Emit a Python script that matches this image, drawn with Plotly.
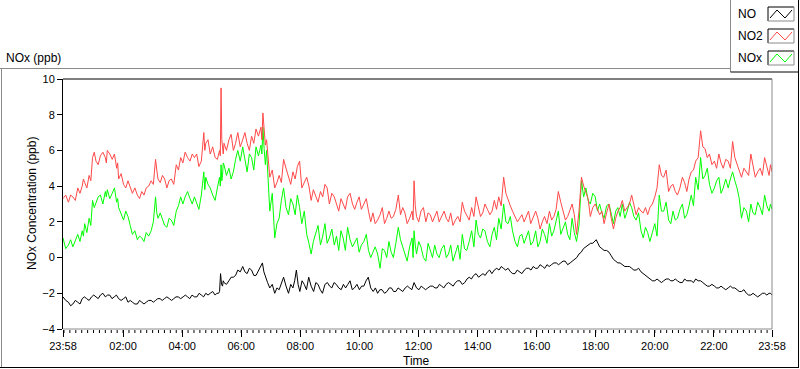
import pandas as pd
import plotly.graph_objects as go

START = pd.Timestamp("2013-05-01 23:58")

# ---- data (minutes after 23:58, values in ppb) ----
grid_minutes = [
    0, 11, 20, 30, 39, 44, 53, 60, 67, 76,
    86, 90, 100, 109, 113, 123, 132, 141, 151, 160,
    169, 179, 188, 193, 202, 211, 220, 230, 239, 248,
    258, 267, 276, 286, 290, 299, 309, 318, 321, 324,
    327, 337, 346, 355, 365, 374, 383, 392, 402, 406,
    411, 416, 420, 430, 439, 448, 458, 467, 476, 485,
    495, 504, 513, 523, 532, 541, 551, 560, 569, 578,
    588, 597, 606, 616, 625, 634, 644, 653, 662, 671,
    681, 690, 699, 709, 713, 718, 727, 737, 746, 755,
    764, 774, 783, 792, 802, 811, 820, 830, 839, 848,
    857, 867, 876, 885, 895, 904, 913, 923, 932, 941,
    950, 960, 969, 978, 988, 997, 1006, 1016, 1025, 1034,
    1043, 1053, 1062, 1071, 1081, 1090, 1099, 1109, 1118, 1127,
    1136, 1146, 1155, 1164, 1174, 1183, 1192, 1202, 1211, 1220,
    1230, 1239, 1248, 1258, 1267, 1276, 1285, 1295, 1304, 1313,
    1323, 1332, 1341, 1351, 1360, 1369, 1378, 1388, 1397, 1406,
    1416, 1425, 1434, 1440,
]

# NO2 readings on grid_minutes
no2_ppb = [
    3.3, 3.1, 3.4, 3.9, 4.0, 4.2, 4.6, 5.6, 5.4, 5.7,
    5.6, 6.0, 5.5, 5.0, 4.4, 4.1, 4.3, 3.6, 3.5, 3.7,
    3.9, 4.3, 5.5, 4.4, 4.6, 3.9, 4.4, 5.2, 5.6, 5.9,
    5.4, 5.6, 5.1, 7.0, 6.4, 5.8, 5.6, 6.0, 9.5, 6.2,
    6.4, 6.6, 6.0, 7.0, 6.6, 6.4, 6.8, 7.2, 7.3, 8.1,
    6.3, 5.6, 4.5, 3.9, 4.6, 5.5, 4.5, 4.8, 5.1, 3.9,
    4.5, 3.2, 3.5, 3.7, 4.1, 3.0, 3.4, 2.6, 3.0, 3.4,
    3.0, 3.1, 2.7, 3.3, 2.0, 1.9, 2.4, 1.9, 2.6, 2.3,
    3.5, 2.8, 1.9, 2.6, 4.3, 2.3, 2.6, 2.0, 2.4, 2.3,
    2.0, 2.6, 2.0, 1.8, 2.3, 3.1, 2.4, 2.8, 3.4, 2.3,
    3.0, 2.4, 3.2, 3.4, 4.5, 3.2, 2.6, 2.0, 2.4, 2.3,
    1.9, 2.6, 1.6, 2.3, 2.6, 2.3, 3.7, 2.6, 2.3, 3.0,
    1.3, 4.5, 3.7, 2.3, 3.0, 2.4, 1.9, 3.0, 1.6, 2.6,
    3.2, 2.8, 3.5, 2.4, 2.6, 2.8, 2.8, 3.4, 5.2, 4.5,
    3.7, 4.1, 3.5, 4.5, 3.7, 4.8, 5.4, 7.1, 6.1, 5.8,
    5.4, 5.8, 5.0, 5.4, 6.5, 5.2, 4.5, 4.8, 5.8, 4.5,
    5.0, 5.6, 4.6, 4.8,
]
# NO2 readings taken half-way between consecutive grid_minutes
no2_between = [
    3.5, 3.5, 3.2, 3.6, 4.4, 3.9, 4.3, 5.9, 5.2, 5.9,
    5.3, 5.8, 5.8, 5.3, 4.7, 3.9, 4.0, 3.9, 3.3, 3.5,
    4.0, 4.1, 4.9, 4.2, 4.4, 4.3, 4.1, 4.9, 5.3, 5.6,
    5.8, 5.8, 5.4, 6.0, 6.6, 6.2, 5.5, 5.7, 6.6, 5.8,
    6.0, 6.9, 6.4, 6.2, 7.0, 6.0, 6.4, 6.8, 6.6, 7.4,
    6.6, 5.2, 4.9, 4.2, 4.2, 5.0, 4.1, 4.4, 5.4, 4.2,
    4.0, 3.8, 3.1, 3.4, 3.9, 3.6, 3.0, 3.3, 2.7, 3.6,
    2.7, 3.4, 3.0, 2.6, 2.5, 2.1, 2.8, 2.2, 2.2, 2.7,
    2.4, 2.5, 2.2, 2.1, 2.9, 2.0, 2.8, 2.5, 2.0, 2.6,
    2.3, 2.2, 2.5, 2.1, 2.0, 2.6, 2.1, 2.3, 2.9, 2.5,
    2.7, 2.6, 2.7, 2.9, 3.6, 2.9, 2.3, 2.2, 2.0, 2.6,
    2.2, 2.2, 2.0, 1.9, 2.1, 2.7, 3.1, 2.1, 2.7, 2.4,
    2.6, 4.0, 3.3, 2.8, 2.7, 2.6, 2.5, 2.2, 2.2, 2.8,
    2.6, 3.0, 2.9, 2.8, 2.5, 2.4, 3.0, 3.9, 4.6, 4.9,
    4.0, 3.7, 3.9, 4.2, 4.4, 4.9, 5.6, 6.2, 5.6, 5.2,
    5.0, 5.3, 5.5, 5.0, 5.6, 4.9, 5.0, 4.6, 5.1, 4.8,
    4.6, 5.1, 5.2,
]

# NOx readings on grid_minutes
nox_ppb = [
    1.1, 0.7, 0.6, 1.3, 1.5, 1.9, 2.2, 3.2, 3.1, 3.5,
    3.7, 3.8, 3.6, 3.1, 2.8, 2.1, 2.3, 1.3, 1.0, 1.1,
    1.4, 1.5, 3.4, 2.2, 2.1, 1.7, 2.1, 2.6, 3.4, 3.4,
    3.3, 3.4, 2.7, 4.8, 4.5, 3.9, 3.2, 4.5, 5.2, 4.6,
    5.2, 5.0, 4.8, 6.0, 6.2, 4.8, 5.6, 6.2, 6.3, 7.3,
    5.2, 4.3, 2.6, 1.1, 2.2, 3.9, 2.4, 3.0, 3.5, 1.9,
    1.3, 0.2, 1.3, 0.7, 1.9, 1.1, 0.7, 0.4, 1.1, 1.7,
    0.6, 1.1, 0.7, 1.3, 0.0, 0.6, -0.6, 0.4, 0.9, 0.0,
    1.7, 0.6, -0.2, 1.1, 1.5, 0.2, 0.6, -0.2, 0.4, 0.7,
    0.0, 0.7, 0.2, -0.2, 0.7, 1.3, 0.4, 1.5, 2.1, 1.1,
    1.5, 0.6, 1.7, 2.2, 3.0, 1.9, 1.5, 0.6, 1.3, 1.1,
    0.7, 1.5, 0.9, 1.3, 1.9, 1.5, 2.6, 1.7, 1.3, 2.2,
    0.9, 4.3, 3.9, 3.0, 3.4, 3.0, 2.2, 3.0, 1.9, 2.8,
    3.0, 2.6, 2.8, 2.1, 1.5, 1.7, 0.9, 1.9, 3.5, 2.6,
    2.1, 2.6, 2.2, 3.0, 2.4, 3.5, 4.5, 5.6, 4.6, 4.1,
    3.9, 4.5, 3.9, 3.9, 4.8, 3.9, 2.2, 2.6, 3.0, 2.4,
    2.8, 3.5, 2.6, 2.7,
]
# NOx readings taken half-way between consecutive grid_minutes
nox_between = [
    0.5, 1.0, 1.0, 0.9, 1.2, 1.4, 1.8, 2.8, 3.4, 3.0,
    3.4, 3.3, 3.9, 3.3, 2.5, 2.6, 1.8, 1.5, 1.2, 0.9,
    1.2, 2.0, 2.5, 2.5, 1.8, 2.2, 1.8, 2.9, 3.0, 3.7,
    3.0, 3.0, 3.5, 3.8, 4.1, 3.5, 3.9, 4.0, 4.3, 5.3,
    4.6, 4.4, 5.5, 5.4, 5.5, 5.8, 4.9, 5.7, 5.8, 6.1,
    6.0, 3.4, 3.6, 1.9, 3.2, 2.8, 3.3, 2.4, 2.8, 2.6,
    0.8, 0.9, 1.8, 1.2, 0.8, 1.6, 1.2, 1.5, 0.4, 1.0,
    0.9, 0.3, 0.9, 0.4, 0.3, 0.2, 0.5, 0.0, 0.3, 0.8,
    1.0, 0.2, 0.6, 0.0, 0.7, 0.9, 0.0, 0.8, 0.0, 0.2,
    0.5, 0.0, 0.7, 0.3, -0.1, 0.5, 0.9, 0.6, 1.3, 1.6,
    0.9, 1.3, 1.0, 1.6, 2.0, 2.3, 0.9, 1.2, 0.8, 1.5,
    0.9, 0.6, 1.6, 0.8, 1.2, 2.1, 1.3, 2.0, 1.0, 1.4,
    1.8, 3.4, 3.2, 3.6, 2.6, 2.5, 2.9, 2.4, 2.6, 2.3,
    2.2, 3.1, 2.3, 2.5, 1.1, 1.4, 1.4, 1.2, 2.6, 3.1,
    1.9, 2.1, 2.7, 2.2, 2.9, 2.9, 3.8, 4.4, 5.0, 3.6,
    4.3, 3.6, 4.4, 4.4, 4.3, 3.3, 2.8, 2.0, 2.5, 3.1,
    2.4, 2.9, 3.0,
]

no_minutes = [
    0, 11, 20, 30, 39, 48, 58, 67, 76, 86,
    95, 104, 113, 123, 132, 141, 151, 160, 169, 179,
    188, 197, 206, 216, 225, 234, 244, 253, 262, 272,
    281, 290, 299, 309, 316, 320, 324, 327, 337, 346,
    355, 365, 374, 383, 392, 405, 411, 420, 430, 439,
    448, 458, 467, 474, 481, 490, 499, 509, 518, 527,
    537, 546, 555, 565, 574, 583, 592, 602, 611, 620,
    630, 639, 648, 658, 667, 676, 685, 695, 704, 713,
    723, 732, 741, 751, 760, 769, 778, 788, 797, 806,
    816, 825, 834, 844, 853, 862, 871, 881, 890, 899,
    909, 918, 927, 937, 946, 955, 964, 974, 983, 992,
    1002, 1011, 1020, 1030, 1039, 1048, 1057, 1067, 1076, 1083,
    1090, 1099, 1109, 1118, 1127, 1136, 1146, 1155, 1164, 1174,
    1183, 1192, 1202, 1211, 1220, 1230, 1239, 1248, 1258, 1267,
    1276, 1285, 1295, 1304, 1313, 1323, 1332, 1341, 1351, 1360,
    1369, 1378, 1388, 1397, 1406, 1416, 1425, 1434, 1440,
]

no_ppb = [
    -2.2, -2.5, -2.6, -2.5, -2.3, -2.3, -2.2, -2.2, -2.1, -2.2,
    -2.1, -2.2, -2.3, -2.3, -2.5, -2.5, -2.6, -2.5, -2.5, -2.4,
    -2.4, -2.3, -2.3, -2.3, -2.3, -2.2, -2.2, -2.2, -2.1, -2.2,
    -2.1, -2.0, -2.0, -2.1, -2.0, -0.9, -1.6, -1.4, -1.3, -1.1,
    -0.7, -0.5, -0.9, -0.7, -1.0, -0.3, -1.1, -1.7, -2.0, -1.8,
    -1.1, -2.0, -1.7, -0.7, -1.9, -1.5, -1.1, -1.9, -1.5, -2.0,
    -1.4, -1.7, -1.5, -1.8, -1.7, -1.3, -1.7, -1.8, -1.6, -1.1,
    -1.9, -2.0, -1.8, -1.9, -1.7, -1.9, -1.8, -1.7, -1.7, -1.4,
    -1.8, -1.7, -1.7, -1.6, -1.7, -1.6, -1.5, -1.5, -1.4, -1.3,
    -1.4, -1.1, -1.0, -1.1, -0.9, -0.8, -0.9, -0.6, -0.5, -0.7,
    -0.8, -0.9, -0.8, -0.7, -0.6, -0.5, -0.6, -0.5, -0.4, -0.4,
    -0.3, -0.3, -0.2, -0.3, -0.1, 0.2, 0.5, 0.7, 0.8, 1.0,
    0.6, 0.4, 0.3, -0.1, -0.3, -0.4, -0.5, -0.6, -0.7, -0.8,
    -1.0, -1.2, -1.3, -1.3, -1.3, -1.2, -1.3, -1.3, -1.4, -1.3,
    -1.3, -1.2, -1.3, -1.5, -1.6, -1.6, -1.7, -1.7, -1.7, -1.7,
    -1.8, -1.9, -2.0, -2.1, -2.1, -2.1, -2.0, -2.0, -2.1,
]
# NO readings taken half-way between consecutive no_minutes
no_between = [
    -2.4, -2.7, -2.4, -2.6, -2.2, -2.4, -2.1, -2.3, -2.0, -2.1,
    -2.3, -2.1, -2.4, -2.2, -2.4, -2.6, -2.4, -2.6, -2.4, -2.5,
    -2.3, -2.4, -2.2, -2.4, -2.2, -2.3, -2.1, -2.3, -2.2, -2.0,
    -2.2, -2.1, -1.9, -2.0, -1.9, -1.5, -1.3, -1.5, -1.1, -1.0,
    -0.8, -0.8, -0.6, -1.0, -0.6, -0.8, -1.4, -1.5, -1.7, -1.4,
    -1.6, -1.5, -1.3, -1.5, -1.3, -1.8, -1.6, -1.4, -1.8, -1.5,
    -1.6, -1.4, -1.7, -1.5, -1.5, -1.8, -1.5, -1.6, -1.3, -1.7,
    -1.7, -1.8, -2.0, -1.7, -1.9, -1.7, -1.9, -1.6, -1.8, -1.7,
    -1.6, -1.8, -1.6, -1.7, -1.5, -1.7, -1.4, -1.6, -1.3, -1.5,
    -1.2, -1.2, -0.9, -1.0, -1.0, -0.7, -0.7, -0.7, -0.6, -0.6,
    -0.9, -0.7, -0.9, -0.6, -0.7, -0.6, -0.4, -0.6, -0.5, -0.3,
    -0.4, -0.2, -0.4, -0.2, 0.0, 0.3, 0.6, 0.8, 0.9, 0.8,
    0.5, 0.4, 0.1, -0.2, -0.3, -0.5, -0.5, -0.7, -0.6, -0.9,
    -1.1, -1.3, -1.2, -1.4, -1.2, -1.3, -1.2, -1.4, -1.2, -1.3,
    -1.4, -1.3, -1.4, -1.6, -1.5, -1.7, -1.6, -1.8, -1.6, -1.7,
    -1.9, -1.8, -2.1, -2.0, -2.2, -2.0, -2.1, -2.0,
]

series_names = ["NO", "NO2", "NOx"]
series_colors = ["#000000", "#FF4848", "#00FF00"]

x_tick_minutes = [0, 122, 242, 362, 482, 602, 722, 842, 962, 1082, 1202, 1322, 1440]
x_tick_labels = ["23:58", "02:00", "04:00", "06:00", "08:00", "10:00", "12:00",
                 "14:00", "16:00", "18:00", "20:00", "22:00", "23:58"]
y_ticks = [-4, -2, 0, 2, 4, 6, 8, 10]


def to_time(mins):
    return [START + pd.Timedelta(minutes=m) for m in mins]


def merge(mins, vals, between):
    """Interleave the on-grid readings with the readings taken between them."""
    assert len(vals) == len(mins) and len(between) == len(vals) - 1
    xs, ys = [], []
    for i, (m, v) in enumerate(zip(mins, vals)):
        xs.append(m)
        ys.append(v)
        if i < len(between):
            xs.append((m + mins[i + 1]) / 2)
            ys.append(between[i])
    return to_time(xs), ys


FONT = "Liberation Sans, Arial, sans-serif"
W, H = 800, 369
L, T, R, B = 63, 79, 772, 329
X_RANGE = [START, START + pd.Timedelta(minutes=1440)]


def px(x):
    return (x - L) / (R - L)


def py(y):
    return (B - y) / (B - T)


fig = go.Figure()
x_nox, y_nox = merge(grid_minutes, nox_ppb, nox_between)
x_no2, y_no2 = merge(grid_minutes, no2_ppb, no2_between)
x_no, y_no = merge(no_minutes, no_ppb, no_between)
fig.add_trace(go.Scatter(x=x_nox, y=y_nox, mode="lines", name=series_names[2],
                         line=dict(color=series_colors[2], width=1)))
fig.add_trace(go.Scatter(x=x_no2, y=y_no2, mode="lines", name=series_names[1],
                         line=dict(color=series_colors[1], width=1)))
fig.add_trace(go.Scatter(x=x_no, y=y_no, mode="lines", name=series_names[0],
                         line=dict(color=series_colors[0], width=1)))

shapes = []


def line(x0, y0, x1, y1, color, w=1):
    shapes.append(dict(type="line", xref="paper", yref="paper",
                       x0=px(x0), y0=py(y0), x1=px(x1), y1=py(y1),
                       line=dict(color=color, width=w), layer="above"))


# small x ticks every 12 minutes (axis decoration), placed on the time axis
minor_t = pd.Timestamp("2013-05-02 00:00")
while minor_t < X_RANGE[1]:
    shapes.append(dict(type="line", xref="x", yref="paper",
                       x0=minor_t, x1=minor_t, y0=py(B + 1), y1=py(B + 4),
                       line=dict(color="#000000", width=1), layer="above"))
    minor_t += pd.Timedelta(minutes=12)

# plot frame
line(L, T, R, T, "#000000")
line(R, T, R, B, "#8a8a8a")
line(L, B, R, B, "#8a8a8a")
# outer frame
line(0, 68.5, 730.5, 68.5, "#8a8a8a")
line(1.5, 68.5, 1.5, 367.5, "#8a8a8a")
line(0, 367.5, 799, 367.5, "#000000")
line(798.5, 0, 798.5, 367.5, "#000000")
# legend box
line(730.5, 0, 730.5, 72, "#8a8a8a")
line(730.5, 72, 799, 72, "#000000")

annotations = []
row_centers = [14, 36, 58]
for name, color, yc in zip(series_names, series_colors, row_centers):
    annotations.append(dict(text=name, x=px(736), y=py(yc), xref="paper", yref="paper",
                            xanchor="left", yanchor="middle", showarrow=False,
                            font=dict(family=FONT, size=12, color="#000000")))
    bx0, bx1, by0, by1 = 768, 794, yc - 7, yc + 7
    line(bx0, by0, bx1, by0, "#000000")
    line(bx0, by0, bx0, by1, "#000000")
    line(bx1, by0, bx1, by1, "#8a8a8a")
    line(bx0, by1, bx1, by1, "#8a8a8a")
    path = "M {} {} L {} {} L {} {} L {} {}".format(
        px(bx0 + 2), py(by1 - 3), px(bx0 + 9), py(by0 + 3),
        px(bx0 + 17), py(by1 - 3), px(bx0 + 24), py(by0 + 3))
    shapes.append(dict(type="path", xref="paper", yref="paper", path=path,
                       line=dict(color=color, width=1), layer="above"))

annotations.append(dict(text="NOx (ppb)", x=px(4), y=py(58), xref="paper", yref="paper",
                        xanchor="left", yanchor="middle", showarrow=False,
                        font=dict(family=FONT, size=12, color="#000000")))
annotations.append(dict(text="NOx Concentration (ppb)", x=px(32), y=py(204), xref="paper",
                        yref="paper", xanchor="center", yanchor="middle", textangle=-90,
                        showarrow=False, font=dict(family=FONT, size=12, color="#000000")))
annotations.append(dict(text="Time", x=px(416), y=py(361), xref="paper", yref="paper",
                        xanchor="center", yanchor="middle", showarrow=False,
                        font=dict(family=FONT, size=12, color="#000000")))

fig.update_layout(
    width=W, height=H,
    margin=dict(l=L, r=W - R, t=T, b=H - B, pad=0),
    paper_bgcolor="white", plot_bgcolor="white",
    showlegend=False,
    shapes=shapes, annotations=annotations,
    font=dict(family=FONT, size=11, color="#000000"),
    xaxis=dict(
        type="date", range=X_RANGE,
        tickmode="array",
        tickvals=to_time(x_tick_minutes),
        ticktext=x_tick_labels,
        ticks="outside", ticklen=7, tickwidth=1, tickcolor="#000000",
        showgrid=False, zeroline=False, showline=False,
        tickfont=dict(family=FONT, size=11, color="#000000"),
    ),
    yaxis=dict(
        range=[-4, 10],
        tickmode="array", tickvals=y_ticks,
        ticks="outside", ticklen=5, tickwidth=1, tickcolor="#000000",
        showgrid=False, zeroline=False,
        showline=True, linecolor="#000000", linewidth=1,
        tickfont=dict(family=FONT, size=11, color="#000000"),
    ),
)

fig.write_html("out.html", config={"displayModeBar": False},
               post_script="document.body.style.margin='0';document.body.style.overflow='hidden';")
